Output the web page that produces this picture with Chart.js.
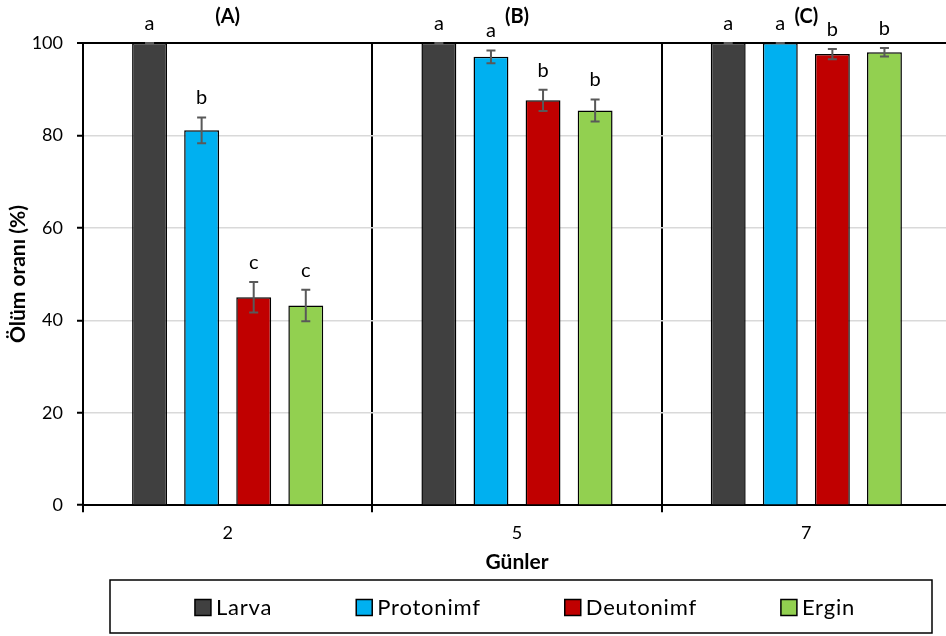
<!DOCTYPE html>
<html><head><meta charset="utf-8">
<script src="https://cdn.jsdelivr.net/npm/chart.js@4.4.1/dist/chart.umd.min.js"></script>
<style>html,body{margin:0;padding:0;background:#fff;overflow:hidden}canvas{display:block}</style>
</head><body>
<canvas id="c" width="952" height="636"></canvas>
<script>
const days = ['2','5','7'];
const seriesNames = ['Larva','Protonimf','Deutonimf','Ergin'];
const larva = [100,100,100];
const protonimf = [81.1,97.0,100];
const deutonimf = [45.0,87.6,97.6];
const ergin = [43.2,85.4,98.0];
const larvaErr = [0,0,0];
const protonimfErr = [2.8,1.4,0];
const deutonimfErr = [3.3,2.3,1.1];
const erginErr = [3.4,2.4,0.9];
const larvaLetters = ['a','a','a'];
const protonimfLetters = ['b','a','a'];
const deutonimfLetters = ['c','b','b'];
const erginLetters = ['c','b','b'];
const panelLabels = ['(A)','(B)','(C)'];
const colors = ['#404040','#00b0f0','#c00000','#92d050'];
const FONT = 'Lato';

function mk(i, data, errs, letters){
  return {label: seriesNames[i], data: data, errors: errs, letters: letters,
    backgroundColor: colors[i], borderColor: '#000', borderWidth: 1.5,
    categoryPercentage: 0.72, barPercentage: 0.67};
}

const annot = {
  id: 'annot',
  afterDatasetsDraw(chart){
    const ctx = chart.ctx, x = chart.scales.x, y = chart.scales.y;
    chart.data.datasets.forEach((ds, i) => {
      const meta = chart.getDatasetMeta(i);
      meta.data.forEach((bar, j) => {
        const v = ds.data[j], e = ds.errors[j];
        const yt = y.getPixelForValue(v + e), yb = y.getPixelForValue(v - e);
        ctx.save();
        ctx.strokeStyle = '#595959'; ctx.lineWidth = 2;
        ctx.beginPath();
        ctx.moveTo(bar.x, yt); ctx.lineTo(bar.x, yb);
        ctx.moveTo(bar.x - 4.5, yt); ctx.lineTo(bar.x + 4.5, yt);
        ctx.moveTo(bar.x - 4.5, yb); ctx.lineTo(bar.x + 4.5, yb);
        ctx.stroke();
        ctx.fillStyle = '#000'; ctx.font = '20px ' + FONT;
        ctx.textAlign = 'center'; ctx.textBaseline = 'alphabetic';
        ctx.fillText(ds.letters[j], bar.x, yt - 13);
        ctx.restore();
      });
    });
    ctx.save();
    ctx.fillStyle = '#000'; ctx.font = 'bold 20px ' + FONT;
    ctx.textAlign = 'center'; ctx.textBaseline = 'middle';
    days.forEach((d, k) => ctx.fillText(panelLabels[k], x.getPixelForValue(k), 17));
    ctx.restore();
  },
  afterDraw(chart){
    const ctx = chart.ctx;
    const left = 110, right = 932, top = 580, bottom = 633;
    ctx.save();
    ctx.strokeStyle = '#000'; ctx.lineWidth = 1.5;
    ctx.strokeRect(left, top, right - left, bottom - top);
    ctx.font = '22px ' + FONT;
    ctx.letterSpacing = '0.8px';
    const box = 16, gap = 5, spacing = 84;
    const ds = chart.data.datasets;
    const widths = ds.map(d => box + gap + ctx.measureText(d.label).width);
    const total = widths.reduce((a, b) => a + b, 0) + spacing * (ds.length - 1);
    let xx = (left + right) / 2 + 4 - total / 2;
    const cy = (top + bottom) / 2 + 1;
    ctx.textBaseline = 'middle'; ctx.textAlign = 'left';
    ds.forEach((d, i) => {
      ctx.fillStyle = d.backgroundColor;
      ctx.fillRect(xx, cy - box / 2, box, box);
      ctx.lineWidth = 1.5; ctx.strokeStyle = '#000';
      ctx.strokeRect(xx, cy - box / 2, box, box);
      ctx.fillStyle = '#000';
      ctx.fillText(d.label, xx + box + gap, cy);
      xx += widths[i] + spacing;
    });
    ctx.restore();
  }
};

new Chart(document.getElementById('c'), {
  type: 'bar',
  data: {
    labels: days,
    datasets: [
      mk(0, larva, larvaErr, larvaLetters),
      mk(1, protonimf, protonimfErr, protonimfLetters),
      mk(2, deutonimf, deutonimfErr, deutonimfLetters),
      mk(3, ergin, erginErr, erginLetters)
    ]
  },
  options: {
    responsive: false, animation: false, devicePixelRatio: 1,
    layout: {padding: {top: 43, left: 0, right: 1, bottom: 61}},
    plugins: {legend: {display: false}, tooltip: {enabled: false}},
    scales: {
      x: {
        grid: {offset: true, color: '#000', lineWidth: 2, tickLength: 7, drawOnChartArea: true},
        border: {color: '#000', width: 2},
        ticks: {color: '#000', font: {family: FONT, size: 18}, padding: 10},
        title: {display: true, text: 'Günler', color: '#000', font: {family: FONT, size: 21, weight: 'bold'}, padding: {top: -4, bottom: 0}}
      },
      y: {
        min: 0, max: 100,
        afterFit: s => { s.width = 83; },
        ticks: {stepSize: 20, color: '#000', font: {family: FONT, size: 18}, padding: 14},
        grid: {
          color: c => (c.tick && c.tick.value === 100) ? '#000' : '#d9d9d9',
          lineWidth: c => (c.tick && c.tick.value === 100) ? 2 : 1.5,
          tickColor: '#000', tickLength: 6, tickWidth: 2
        },
        border: {color: '#000', width: 2},
        title: {display: true, text: 'Ölüm oranı (%)', color: '#000', font: {family: FONT, size: 21, weight: 'bold'}, padding: {top: 6, bottom: 0}}
      }
    }
  },
  plugins: [annot]
});
</script>
</body></html>
